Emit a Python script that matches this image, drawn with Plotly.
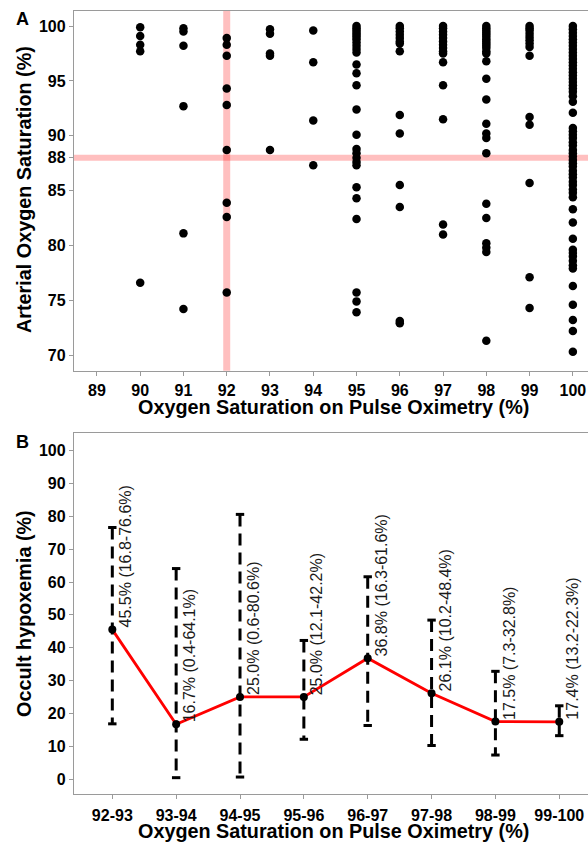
import plotly.graph_objects as go

# ---------------- Panel A data: arterial SaO2 (%) by pulse-oximetry SpO2 (%) ----------------
sao2_at_90 = [99.9, 99.1, 98.3, 97.7, 76.6]
sao2_at_91 = [99.8, 99.5, 98.2, 92.7, 81.1, 74.2]
sao2_at_92 = [98.9, 98.3, 97.3, 94.3, 92.8, 88.7, 83.9, 82.6, 75.7]
sao2_at_93 = [99.7, 99.3, 97.5, 97.3, 88.7]
sao2_at_94 = [99.6, 96.7, 91.4, 87.3]
sao2_at_95 = [100.0, 99.8, 99.6, 99.4, 99.2, 99.0, 98.8, 98.5, 98.2, 97.9, 97.6, 96.5, 95.7,
              94.6, 92.4, 90.1, 88.8, 88.4, 88.0, 87.6, 87.3, 85.3, 84.3, 82.4, 75.7, 74.9, 73.9]
sao2_at_96 = [100.0, 99.8, 99.5, 99.2, 98.9, 98.6, 98.4, 97.7, 91.9, 90.2, 85.5, 83.5, 73.1, 72.9]
sao2_at_97 = [100.0, 99.8, 99.5, 99.2, 98.9, 98.6, 98.3, 98.0, 97.7, 97.5, 96.7, 94.6, 91.5,
              81.9, 81.0]
sao2_at_98 = [100.0, 99.8, 99.6, 99.4, 99.2, 99.0, 98.8, 98.6, 98.4, 98.2, 98.0, 97.7, 97.5,
              96.8, 95.2, 93.3, 91.1, 90.2, 89.8, 88.4, 83.8, 82.5, 80.2, 79.8, 79.4, 71.3]
sao2_at_99 = [100.0, 99.8, 99.6, 99.3, 99.0, 98.7, 98.4, 98.1, 97.3, 91.7, 91.0, 85.7, 77.1, 74.3]
sao2_at_100 = [100.0, 99.7, 99.4, 99.1, 98.8, 98.5, 98.2, 97.9, 97.6, 97.3, 97.0, 96.7, 96.4,
               96.1, 95.8, 95.5, 95.2, 94.9, 94.6, 94.3, 94.0, 93.6, 93.1, 92.1, 90.7, 90.4,
               90.1, 89.8, 89.4, 89.1, 88.7, 88.4, 88.1, 87.8, 87.5, 87.2, 86.8, 86.5, 86.2,
               85.8, 85.5, 85.1, 84.8, 84.4, 83.3, 82.1, 80.6, 79.6, 79.3, 79.0, 78.6, 78.2,
               77.9, 76.3, 74.6, 73.2, 72.2, 70.3]
spo2_levels = [90, 91, 92, 93, 94, 95, 96, 97, 98, 99, 100]
sao2_columns = [sao2_at_90, sao2_at_91, sao2_at_92, sao2_at_93, sao2_at_94, sao2_at_95,
                sao2_at_96, sao2_at_97, sao2_at_98, sao2_at_99, sao2_at_100]
spo2_threshold = 92
sao2_threshold = 88
a_xticks = list(range(89, 101))
a_yticks = [70, 75, 80, 85, 88, 90, 95, 100]

# ---------------- Panel B data: occult hypoxemia ----------------
b_categories = ["92-93", "93-94", "94-95", "95-96", "96-97", "97-98", "98-99", "99-100"]
b_rate = [45.5, 16.7, 25.0, 25.0, 36.8, 26.1, 17.5, 17.4]
b_ci_low = [16.8, 0.4, 0.6, 12.1, 16.3, 10.2, 7.3, 13.2]
b_ci_high = [76.6, 64.1, 80.6, 42.2, 61.6, 48.4, 32.8, 22.3]
b_yticks = list(range(0, 101, 10))

W, H = 588, 843
FONT = "Liberation Sans, Arial, sans-serif"
AXC = "#9a9a9a"

xs, ys = [], []
for lvl, col in zip(spo2_levels, sao2_columns):
    xs += [lvl] * len(col)
    ys += col

fig = go.Figure()

fig.add_trace(go.Scatter(x=xs, y=ys, mode="markers", xaxis="x", yaxis="y",
                         marker=dict(color="black", size=8.5, line=dict(width=0)),
                         showlegend=False, hoverinfo="skip"))

# Panel B: red line
fig.add_trace(go.Scatter(x=b_categories, y=b_rate, mode="lines", xaxis="x2", yaxis="y2",
                         line=dict(color="#ff0000", width=2.8), showlegend=False))
# dashed CI bars
ex, ey = [], []
for c, lo, hi in zip(b_categories, b_ci_low, b_ci_high):
    ex += [c, c, None]
    ey += [hi, lo, None]
fig.add_trace(go.Scatter(x=ex, y=ey, mode="lines", xaxis="x2", yaxis="y2", connectgaps=False,
                         line=dict(color="black", width=3, dash="12px,7px"), showlegend=False))
# caps
fig.add_trace(go.Scatter(x=b_categories + b_categories, y=b_ci_high + b_ci_low, mode="markers",
                         xaxis="x2", yaxis="y2",
                         marker=dict(symbol="line-ew", size=6, line=dict(color="black", width=3)),
                         showlegend=False))
# points
fig.add_trace(go.Scatter(x=b_categories, y=b_rate, mode="markers", xaxis="x2", yaxis="y2",
                         marker=dict(color="black", size=8), showlegend=False))

xdom = [74 / W, 1.0]
a_dom = [(H - 370.7) / H, (H - 10.7) / H]
b_dom = [(H - 794) / H, (H - 433.3) / H]

tickfont = dict(family=FONT, size=16, color="black", weight="bold")
common_axis = dict(showline=True, linecolor=AXC, linewidth=1.4, showgrid=False, zeroline=False,
                   ticks="outside", ticklen=4, tickcolor=AXC, tickwidth=1.2, tickfont=tickfont)

fig.update_layout(
    width=W, height=H,
    margin=dict(l=0, r=0, t=0, b=0),
    paper_bgcolor="white", plot_bgcolor="white",
    xaxis=dict(domain=xdom, anchor="y", range=[88.47, 100.35], tickvals=a_xticks,
               mirror=True, ticklabelstandoff=1, **common_axis),
    yaxis=dict(domain=a_dom, anchor="x", range=[68.58, 101.4], tickvals=a_yticks, **common_axis),
    xaxis2=dict(domain=xdom, anchor="y2", type="category", range=[-0.6, 7.45],
                mirror=True, ticklabelstandoff=3, **common_axis),
    yaxis2=dict(domain=b_dom, anchor="x2", range=[-4.57, 105.3], tickvals=b_yticks,
                **common_axis),
    shapes=[
        dict(type="line", xref="x", yref="y domain", x0=spo2_threshold, x1=spo2_threshold,
             y0=0, y1=1, line=dict(color="rgba(255,0,0,0.25)", width=7), layer="below"),
        dict(type="line", xref="x domain", yref="y", x0=0, x1=1, y0=sao2_threshold,
             y1=sao2_threshold, line=dict(color="rgba(255,0,0,0.25)", width=6), layer="below"),
    ],
)

title_font = dict(family=FONT, size=19.8, color="black", weight="bold")


def paper_text(text, px, py, font, angle=0):
    return dict(text=text, x=px / W, y=(H - py) / H, xref="paper", yref="paper",
                xanchor="center", yanchor="middle", showarrow=False, font=font,
                textangle=angle)


label_font = dict(family=FONT, size=18, color="black", weight="bold")
ann = [
    paper_text("A", 22, 19, label_font),
    paper_text("B", 22, 442, label_font),
    paper_text("Oxygen Saturation on Pulse Oximetry (%)", 333, 407, title_font),
    paper_text("Oxygen Saturation on Pulse Oximetry (%)", 333, 831, title_font),
    paper_text("Arterial Oxygen Saturation (%)", 24, 190, title_font, -90),
    paper_text("Occult hypoxemia (%)", 24, 614, title_font, -90),
]
for c, v, lo, hi in zip(b_categories, b_rate, b_ci_low, b_ci_high):
    ann.append(dict(text=f"{v:.1f}% ({lo:.1f}-{hi:.1f}%)", x=c, y=v, xref="x2", yref="y2",
                    textangle=-90, xanchor="left", yanchor="bottom", xshift=3, showarrow=False,
                    font=dict(family=FONT, size=16, color="#1a1a1a")))
fig.update_layout(annotations=ann)

fig.write_html("out.html", config={"displayModeBar": False},
               post_script="document.body.style.margin='0px';document.body.style.overflow='hidden';")
